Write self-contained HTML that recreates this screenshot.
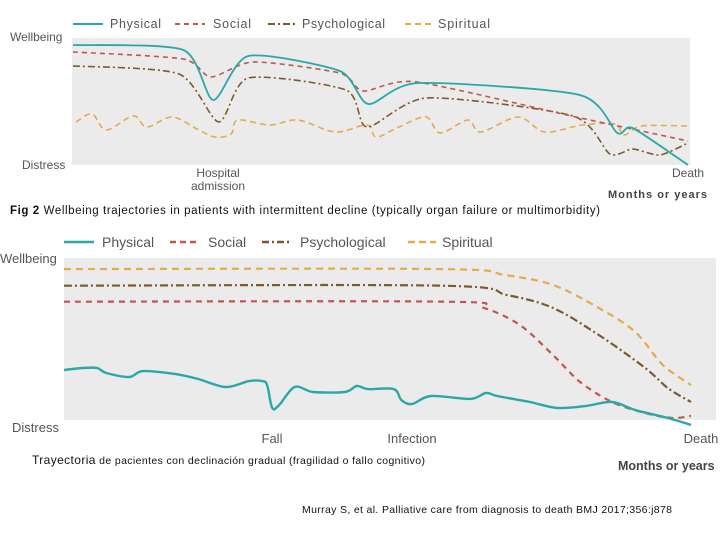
<!DOCTYPE html>
<html><head><meta charset="utf-8"><style>
html,body{margin:0;padding:0;background:#fff;}
svg{display:block;font-family:"Liberation Sans",sans-serif;}
</style></head><body>
<svg id="s" width="720" height="540" viewBox="0 0 720 540">
<g>
<rect x="72" y="38" width="618" height="127" fill="#ebebeb"/>
<g font-size="12.5" fill="#555">
<line x1="73" y1="24" x2="103" y2="24" stroke="#2aa8a8" stroke-width="2"/>
<text x="110" y="28" textLength="51">Physical</text>
<line x1="175" y1="24" x2="205" y2="24" stroke="#c4554d" stroke-width="2" stroke-dasharray="5,4"/>
<text x="213" y="28" textLength="38">Social</text>
<line x1="268" y1="24" x2="296" y2="24" stroke="#7a5c2a" stroke-width="2" stroke-dasharray="7,3,2,3"/>
<text x="302" y="28" textLength="83">Psychological</text>
<line x1="405" y1="24" x2="432" y2="24" stroke="#e8a94a" stroke-width="2" stroke-dasharray="6,4"/>
<text x="438" y="28" textLength="52">Spiritual</text>
</g>
<g font-size="12" fill="#555">
<text x="10" y="41">Wellbeing</text>
<text x="22" y="169">Distress</text>
<text x="218" y="177" text-anchor="middle">Hospital</text>
<text x="218" y="190" text-anchor="middle">admission</text>
<text x="688" y="177" text-anchor="middle">Death</text>
</g>
<text x="608" y="198" font-size="11" font-weight="bold" fill="#444" textLength="99">Months or years</text>
<text x="10" y="214" font-size="11.5" fill="#111" textLength="590"><tspan font-weight="bold">Fig 2</tspan> Wellbeing trajectories in patients with intermittent decline (typically organ failure or multimorbidity)</text>
<g id="topSeries"></g>
</g>
<g>
<rect x="64" y="258" width="652" height="162" fill="#ebebeb"/>
<g font-size="14" fill="#555">
<line x1="64" y1="242" x2="94" y2="242" stroke="#2aa8a8" stroke-width="2.5"/>
<text x="102" y="247">Physical</text>
<line x1="170" y1="242" x2="200" y2="242" stroke="#c4554d" stroke-width="2.5" stroke-dasharray="6,4"/>
<text x="208" y="247">Social</text>
<line x1="262" y1="242" x2="292" y2="242" stroke="#7a5c2a" stroke-width="2.5" stroke-dasharray="7,3,2,3"/>
<text x="300" y="247">Psychological</text>
<line x1="408" y1="242" x2="436" y2="242" stroke="#e8a94a" stroke-width="2.5" stroke-dasharray="7,4"/>
<text x="442" y="247">Spiritual</text>
</g>
<g font-size="13" fill="#555">
<text x="0" y="263">Wellbeing</text>
<text x="12" y="432">Distress</text>
<text x="272" y="443" text-anchor="middle">Fall</text>
<text x="412" y="443" text-anchor="middle">Infection</text>
<text x="701" y="443" text-anchor="middle">Death</text>
</g>
<text x="618" y="470" font-size="12.5" font-weight="bold" fill="#444">Months or years</text>
<text x="32" y="464" font-size="10.5" fill="#111" textLength="393"><tspan font-size="12">Trayectoria</tspan> de pacientes con declinación gradual (fragilidad o fallo cognitivo)</text>
<g id="botSeries"></g>
</g>
<text x="302" y="513" font-size="10.5" fill="#111" textLength="370">Murray S, et al. Palliative care from diagnosis to death BMJ 2017;356:j878</text>
</svg>
<script>
// Top chart data (time 0-100, wellbeing 0-100)
const topPhysT=[0,17.9,22.8,28.5,43.4,48,56.1,82.4,88.5,91,100];
const topPhysV=[94.5,90.6,51.2,85.8,74,48,64.6,55.1,25.2,29.1,0];
const topSocT=[0,17.9,22.4,29.3,43.4,47.2,55.8,81.8,100];
const topSocV=[89,83.5,69.3,81.1,72.4,58.3,65.4,37.8,18.9];
const topPsyT=[0,17.2,23.7,28.5,44.4,47.8,57.6,81.3,87.3,91,95.4,100];
const topPsyV=[78,71.7,33.9,68.5,59,29.9,52.8,38.6,8.7,12.6,7.9,17.3];
const topSpiT=[0.5,3.1,5.4,9.8,12,16.1,20.2,23.1,25.7,26.8,32,36.6,42.6,47.8,49.3,53,57.4,59.7,64.2,66.3,72.4,76.7,82.8,88.1,89.6,92.5,100];
const topSpiV=[33.9,40.2,27.6,38.6,29.9,37.8,28.3,22,24.4,35.4,31.5,35.4,26,31.5,22,29.9,37.8,25.2,35.4,26,37.8,26,31.5,32.3,23.6,30.7,30.7];
// Bottom chart data
const botPhysT=[0,3,5.3,6.7,10.4,12.6,17.7,21.4,25.8,29.5,31.6,32.4,33.2,34.3,36.8,39.7,44.8,46.7,48.5,52.6,53.8,55.5,58.5,64.8,67.3,69.1,74.3,78.6,83.1,87.4,91.1,96.3,100];
const botPhysV=[34.1,35.3,35.3,32.4,30,33.5,31.8,28.8,24.1,27.6,27.6,25.3,11.8,13.5,24.1,21.2,21.2,24.7,22.9,22.9,16.5,14.1,18.8,17.1,20.6,18.8,15.3,11.8,12.9,15.3,10.6,5.9,1.8];
const botSocT=[0,61.1,67,72.7,78,82.3,87.4,92.7,97,100];
const botSocV=[74.3,74.3,70.6,60.6,42.9,27.1,15.3,8.8,5.9,7.1];
const botPsyT=[0,60.3,70.7,78,85.3,92.7,96.3,100];
const botPsyV=[83.7,83.7,78.2,70.6,54.7,35.3,23.5,15.3];
const botSpiT=[0,60.1,70.3,78,85.3,91.1,95.5,100];
const botSpiV=[93.5,93.5,90,84.1,70.6,56.5,37.1,25.3];

const NS="http://www.w3.org/2000/svg";
function mkAxes(x0,x1,y0,y1){return {x:t=>x0+(x1-x0)*t/100,y:v=>y0-(y0-y1)*v/100};}
const topAx=mkAxes(73,688,165,38);
const botAx=mkAxes(64,691,428,258);
function pathD(ax,T,V,k){
  const p=T.map((t,i)=>[ax.x(t),ax.y(V[i])]);
  let d="M"+p[0][0].toFixed(1)+","+p[0][1].toFixed(1);
  for(let i=0;i<p.length-1;i++){
    const a=p[i-1]||p[i],b=p[i],c=p[i+1],e=p[i+2]||c;
    const c1=[b[0]+(c[0]-a[0])*k,b[1]+(c[1]-a[1])*k];
    const c2=[c[0]-(e[0]-b[0])*k,c[1]-(e[1]-b[1])*k];
    d+=" C"+c1[0].toFixed(1)+","+c1[1].toFixed(1)+" "+c2[0].toFixed(1)+","+c2[1].toFixed(1)+" "+c[0].toFixed(1)+","+c[1].toFixed(1);
  }
  return d;
}
function addLine(g,ax,T,V,k,color,w,dash,name){
  const el=document.createElementNS(NS,"path");
  el.setAttribute("d",pathD(ax,T,V,k));
  el.setAttribute("fill","none");
  el.setAttribute("stroke",color);
  el.setAttribute("stroke-width",w);
  if(dash)el.setAttribute("stroke-dasharray",dash);
  
  
  g.appendChild(el);
}
const tg=document.getElementById("topSeries");
addLine(tg,topAx,topSpiT,topSpiV,0.16,"#e8a94a",1.6,"6,4","top-line-spiritual");
addLine(tg,topAx,topPsyT,topPsyV,0.12,"#7a5c2a",1.6,"7,3,2,3","top-line-psychological");
addLine(tg,topAx,topSocT,topSocV,0.12,"#c4554d",1.6,"5,4","top-line-social");
addLine(tg,topAx,topPhysT,topPhysV,0.12,"#2aa8a8",1.8,null,"top-line-physical");
const bg=document.getElementById("botSeries");
addLine(bg,botAx,botSpiT,botSpiV,0.16,"#e8a94a",2.2,"7,5","bottom-line-spiritual");
addLine(bg,botAx,botPsyT,botPsyV,0.16,"#7a5c2a",2.2,"8,3,2,3","bottom-line-psychological");
addLine(bg,botAx,botSocT,botSocV,0.16,"#c4554d",2.2,"6,5","bottom-line-social");
addLine(bg,botAx,botPhysT,botPhysV,0.16,"#2aa8a8",2.4,null,"bottom-line-physical");
</script>
</body></html>
